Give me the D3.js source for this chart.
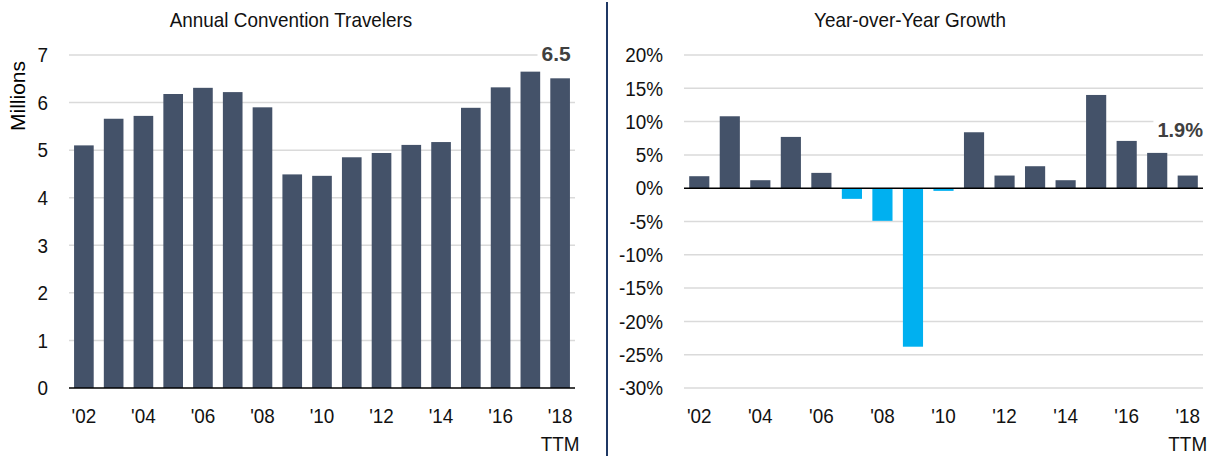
<!DOCTYPE html>
<html>
<head>
<meta charset="utf-8">
<script src="https://cdn.jsdelivr.net/npm/d3@7"></script>
<style>
  body { margin: 0; background: #fff; }
  svg text { font-family: "Liberation Sans", Arial, sans-serif; }
</style>
</head>
<body>
<div id="chart"></div>
<script>
// chart data
var years = [2002, 2003, 2004, 2005, 2006, 2007, 2008, 2009, 2010,
             2011, 2012, 2013, 2014, 2015, 2016, 2017, 2018];
var labelYears = [2002, 2004, 2006, 2008, 2010, 2012, 2014, 2016, 2018];
var travelers = [5.10, 5.66, 5.72, 6.18, 6.31, 6.22, 5.90, 4.49, 4.46,
                 4.85, 4.94, 5.11, 5.17, 5.89, 6.32, 6.65, 6.51];
var growth = [1.8, 10.8, 1.2, 7.7, 2.3, -1.6, -4.9, -23.8, -0.4,
              8.4, 1.9, 3.3, 1.2, 14.0, 7.1, 5.3, 1.9];
var travelerTicks = [0, 1, 2, 3, 4, 5, 6, 7];
var growthTicks = [-30, -25, -20, -15, -10, -5, 0, 5, 10, 15, 20];

var width = 1214,
  height = 458;

var barColor = "#445269",
  negColor = "#00b0f0",
  gridColor = "#dadada";

var fontSize = 21,
  squeeze = 0.9; // reference uses a condensed face

var svg = d3.select("#chart").append("svg")
  .attr("width", width)
  .attr("height", height);

var fmtYear = function (d) { return "'" + String(d).slice(2); };

// move x/y into a transform so the glyphs can be narrowed
function condense(sel, sx) {
  sel.each(function () {
    var t = d3.select(this);
    var x = +t.attr("x") || 0, y = +t.attr("y") || 0;
    t.attr("x", 0).attr("y", 0)
      .attr("transform", "translate(" + x + "," + y + ") scale(" + sx + ",1)");
  });
}

// ---- left: annual travelers ----
var xL = d3.scaleBand()
  .domain(years)
  .range([69, 575])
  .paddingInner(0.34)
  .paddingOuter(0.17);

var yL = d3.scaleLinear()
  .domain([0, 7])
  .range([388, 55]);

var left = svg.append("g");

left.append("g")
  .selectAll("line")
  .data(travelerTicks.filter(function (d) { return d !== 0; }))
  .enter()
  .append("line")
  .attr("x1", 69).attr("x2", 575)
  .attr("y1", function (d) { return yL(d); })
  .attr("y2", function (d) { return yL(d); })
  .attr("stroke", gridColor)
  .attr("stroke-width", 1.5);

left.append("g")
  .selectAll("rect")
  .data(travelers)
  .enter()
  .append("rect")
  .attr("x", function (d, i) { return xL(years[i]); })
  .attr("width", xL.bandwidth())
  .attr("y", function (d) { return yL(d); })
  .attr("height", function (d) { return yL(0) - yL(d); })
  .attr("fill", barColor);

left.append("line")
  .attr("x1", 69).attr("x2", 575)
  .attr("y1", yL(0)).attr("y2", yL(0))
  .attr("stroke", "#000")
  .attr("stroke-width", 1.5);

left.append("g")
  .attr("transform", "translate(69,0)")
  .call(d3.axisLeft(yL).tickValues(travelerTicks).tickFormat(d3.format("d")).tickSize(0).tickPadding(21));

left.append("g")
  .attr("transform", "translate(0," + yL(0) + ")")
  .call(d3.axisBottom(xL).tickValues(labelYears).tickFormat(fmtYear).tickSize(0).tickPadding(20));

left.append("text")
  .attr("class", "lbl")
  .attr("x", xL(2018) + xL.bandwidth() / 2)
  .attr("y", 444)
  .attr("dy", "0.35em")
  .attr("text-anchor", "middle")
  .text("TTM");

left.append("text")
  .attr("transform", "translate(18,96) rotate(-90)")
  .attr("dy", "0.35em")
  .attr("text-anchor", "middle")
  .attr("font-size", 21)
  .text("Millions");

left.append("text")
  .attr("class", "lbl")
  .attr("x", 291)
  .attr("y", 27)
  .attr("text-anchor", "middle")
  .text("Annual Convention Travelers");

// value label on last bar
var lblL = left.append("g");
var lblLText = lblL.append("text")
  .attr("x", xL(2018) + xL.bandwidth() / 2 - 4)
  .attr("y", yL(7) + 6)
  .attr("text-anchor", "middle")
  .attr("font-size", 21)
  .attr("font-weight", "bold")
  .attr("fill", "#404040")
  .text(d3.format(".1f")(travelers[travelers.length - 1]));
var bbL = lblLText.node().getBBox();
lblL.insert("rect", "text")
  .attr("x", bbL.x - 4).attr("y", bbL.y)
  .attr("width", bbL.width + 8).attr("height", bbL.height)
  .attr("fill", "#fff");

// ---- right: year-over-year growth ----
var xR = d3.scaleBand()
  .domain(years)
  .range([684, 1203])
  .paddingInner(0.34)
  .paddingOuter(0.17);

var yR = d3.scaleLinear()
  .domain([-30, 20])
  .range([388, 55]);

var right = svg.append("g");

right.append("g")
  .selectAll("line")
  .data(growthTicks.filter(function (d) { return d !== 0; }))
  .enter()
  .append("line")
  .attr("x1", 684).attr("x2", 1203)
  .attr("y1", function (d) { return yR(d); })
  .attr("y2", function (d) { return yR(d); })
  .attr("stroke", gridColor)
  .attr("stroke-width", 1.5);

right.append("g")
  .selectAll("rect")
  .data(growth)
  .enter()
  .append("rect")
  .attr("x", function (d, i) { return xR(years[i]); })
  .attr("width", xR.bandwidth())
  .attr("y", function (d) { return yR(Math.max(0, d)); })
  .attr("height", function (d) { return Math.abs(yR(d) - yR(0)); })
  .attr("fill", function (d) { return d < 0 ? negColor : barColor; });

right.append("line")
  .attr("x1", 684).attr("x2", 1203)
  .attr("y1", yR(0)).attr("y2", yR(0))
  .attr("stroke", "#000")
  .attr("stroke-width", 1.5);

right.append("g")
  .attr("transform", "translate(684,0)")
  .call(d3.axisLeft(yR).tickValues(growthTicks).tickFormat(function (d) { return d + "%"; }).tickSize(0).tickPadding(21));

right.append("g")
  .attr("transform", "translate(0," + yR(-30) + ")")
  .call(d3.axisBottom(xR).tickValues(labelYears).tickFormat(fmtYear).tickSize(0).tickPadding(20));

right.append("text")
  .attr("class", "lbl")
  .attr("x", xR(2018) + xR.bandwidth() / 2)
  .attr("y", 444)
  .attr("dy", "0.35em")
  .attr("text-anchor", "middle")
  .text("TTM");

right.append("text")
  .attr("class", "lbl")
  .attr("x", 910)
  .attr("y", 27)
  .attr("text-anchor", "middle")
  .text("Year-over-Year Growth");

var lblR = right.append("g");
var lblRText = lblR.append("text")
  .attr("x", 1203)
  .attr("y", yR(10) + 15.5)
  .attr("text-anchor", "end")
  .attr("font-size", 20)
  .attr("font-weight", "bold")
  .attr("fill", "#404040")
  .text(d3.format(".1f")(growth[growth.length - 1]) + "%");
var bbR = lblRText.node().getBBox();
lblR.insert("rect", "text")
  .attr("x", bbR.x - 4).attr("y", bbR.y)
  .attr("width", bbR.width + 8).attr("height", bbR.height)
  .attr("fill", "#fff");

// axis styling
svg.selectAll(".domain").remove();
svg.selectAll(".tick text, text.lbl")
  .attr("font-size", fontSize)
  .attr("fill", "#111")
  .call(condense, squeeze);

// panel separator
svg.append("line")
  .attr("x1", 607).attr("x2", 607)
  .attr("y1", 2).attr("y2", 456)
  .attr("stroke", "#1f3864")
  .attr("stroke-width", 2);
</script>
</body>
</html>
